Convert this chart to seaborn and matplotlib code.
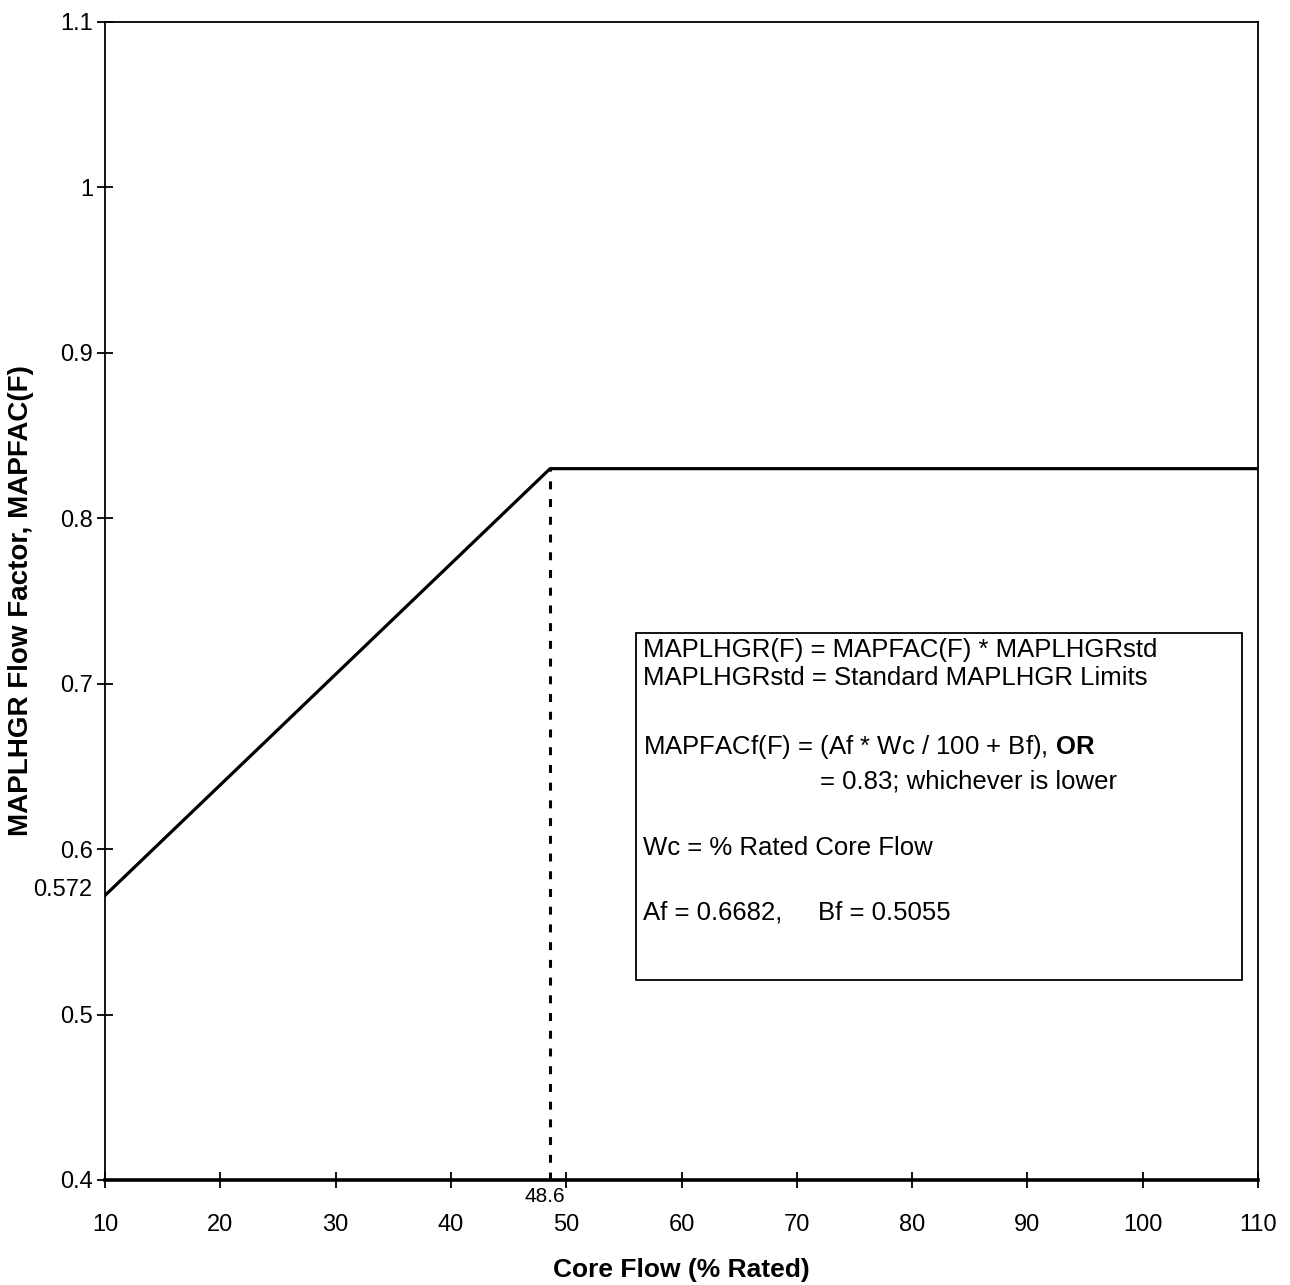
import matplotlib
matplotlib.use("Agg")
import matplotlib.pyplot as plt
import seaborn as sns
import pandas as pd
from matplotlib.patches import Rectangle

# ---- data ----
core_flow = [10, 48.6, 110]
mapfac = [0.572, 0.83, 0.83]
breakpoint_flow = 48.6
breakpoint_val = 0.83
start_val = 0.572
x_ticks = [10, 20, 30, 40, 50, 60, 70, 80, 90, 100, 110]
y_ticks = [0.4, 0.5, 0.6, 0.7, 0.8, 0.9, 1.0, 1.1]
y_tick_labels = ["0.4", "0.5", "0.6", "0.7", "0.8", "0.9", "1", "1.1"]
box_lines = [
    "MAPLHGR(F) = MAPFAC(F) * MAPLHGRstd",
    "MAPLHGRstd = Standard MAPLHGR Limits",
    r"MAPFACf(F) = (Af * Wc / 100 + Bf), $\mathbf{OR}$",
    "= 0.83; whichever is lower",
    "Wc = % Rated Core Flow",
    "Af = 0.6682,     Bf = 0.5055",
]

sns.set_theme(style="white")
plt.rcParams["font.family"] = ["Liberation Sans", "DejaVu Sans"]
plt.rcParams["mathtext.fontset"] = "custom"
plt.rcParams["mathtext.rm"] = "Liberation Sans"
plt.rcParams["mathtext.bf"] = "Liberation Sans:bold"

fig = plt.figure(figsize=(12.9, 12.85), dpi=100)
ax = fig.add_axes([105 / 1290, 1 - 1180 / 1285, (1258 - 105) / 1290, (1180 - 22) / 1285])

df = pd.DataFrame({"flow": core_flow, "fac": mapfac})
sns.lineplot(data=df, x="flow", y="fac", ax=ax, color="black", linewidth=2.3)

ax.plot([breakpoint_flow, breakpoint_flow], [y_ticks[0], breakpoint_val], color="black",
        linewidth=2.2, linestyle=(0, (2.6, 3.2)))

ax.set_xlim(x_ticks[0], x_ticks[-1])
ax.set_ylim(y_ticks[0], y_ticks[-1])
ax.set_xticks(x_ticks)
ax.set_xticklabels([str(v) for v in x_ticks])
ax.set_yticks(y_ticks)
ax.set_yticklabels(y_tick_labels)

ax.tick_params(axis="both", which="major", bottom=True, left=True, top=False, right=False,
               direction="inout", length=11, width=1.3, color="black",
               labelsize=17, labelcolor="black")
ax.tick_params(axis="x", pad=19)
ax.tick_params(axis="y", pad=3)

for side in ["left", "top", "right"]:
    ax.spines[side].set_color("black")
    ax.spines[side].set_linewidth(1.3)
ax.spines["bottom"].set_color("black")
ax.spines["bottom"].set_linewidth(2.6)

ax.set_xlabel("Core Flow (% Rated)", fontsize=19, fontweight="bold", color="black")
ax.set_ylabel("MAPLHGR Flow Factor, MAPFAC(F)", fontsize=20, fontweight="bold", color="black")
ax.xaxis.set_label_coords(0.5, -0.067)
ax.yaxis.set_label_coords(-0.062, 0.5)

# point annotations
ax.annotate("0.572", xy=(core_flow[0], start_val), xytext=(-9, 4), textcoords="offset points",
            ha="right", va="center", fontsize=17, color="black", annotation_clip=False)
ax.annotate("48.6", xy=(breakpoint_flow, y_ticks[0]), xytext=(-4, -12), textcoords="offset points",
            ha="center", va="center", fontsize=15, color="black", annotation_clip=False)

# text box
bx0, bx1 = 0.4605, 0.986
by0, by1 = 0.1727, 0.4724
ax.add_patch(Rectangle((bx0, by0), bx1 - bx0, by1 - by0, transform=ax.transAxes,
                       fill=False, edgecolor="black", linewidth=1.3))
line_y = [0.4577, 0.4335, 0.374, 0.3437, 0.2867, 0.2306]
line_x = [0.4666, 0.4666, 0.4666, 0.620, 0.4666, 0.4666]
for txt, xx, yy in zip(box_lines, line_x, line_y):
    ax.text(xx, yy, txt, transform=ax.transAxes, ha="left", va="center",
            fontsize=18.5, color="black")

fig.savefig("out.png", dpi=100)
